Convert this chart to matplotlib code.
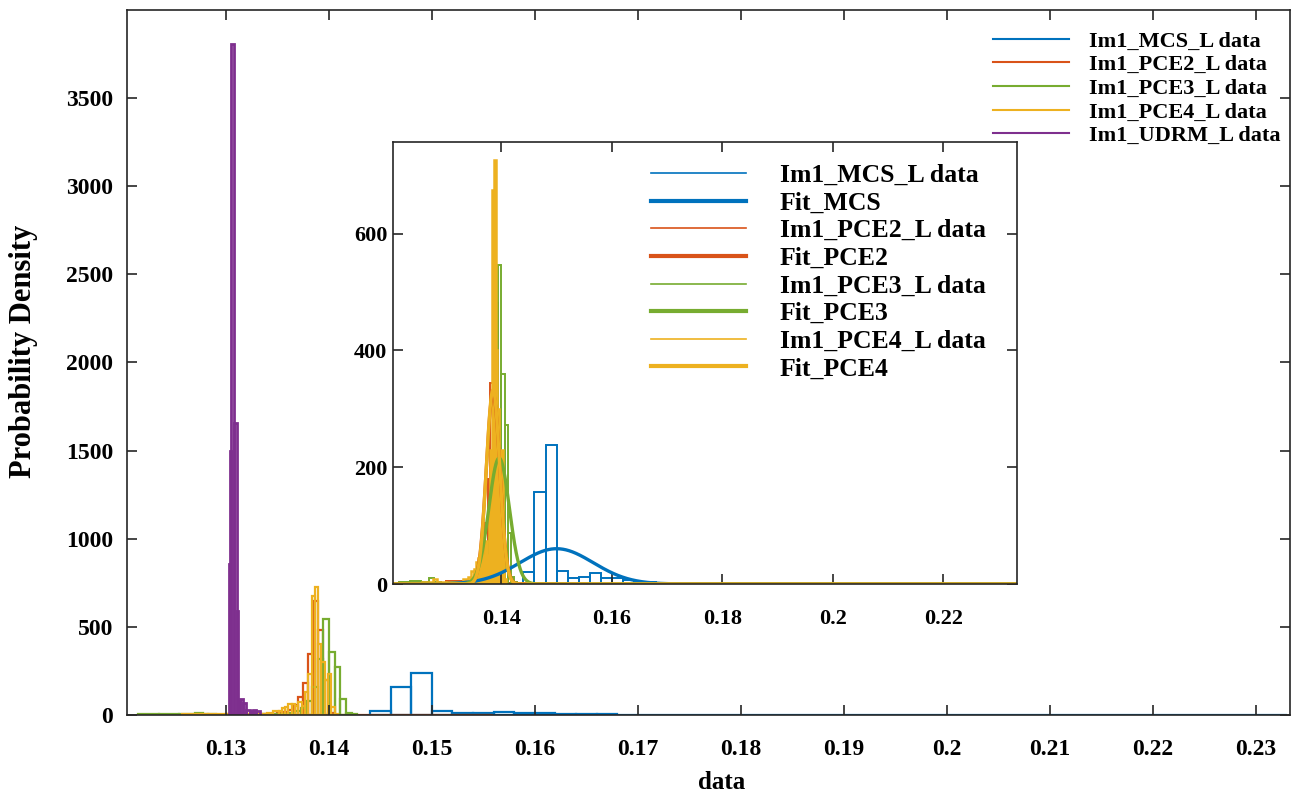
import numpy as np
import matplotlib
matplotlib.use("Agg")
import matplotlib.pyplot as plt
from matplotlib.lines import Line2D

# ---- histogram data: bin edges and bin heights ----
mcs_edges = [0.144, 0.146, 0.148, 0.150, 0.152, 0.154, 0.156, 0.158, 0.160,
             0.162, 0.164, 0.166, 0.168, 0.170, 0.180, 0.200, 0.233]
mcs_heights = [21, 157, 238, 23, 11, 12, 19, 11, 10, 7, 4, 3, 2, 1.5, 1, 0.8]

pce2_edges = [0.1240, 0.1300, 0.1350, 0.13606, 0.13654, 0.13702, 0.1375, 0.13798,
              0.13846, 0.13894, 0.13942, 0.1399, 0.14038, 0.1440, 0.1480, 0.1520, 0.1559]
pce2_heights = [2, 5, 15, 30, 55, 104, 180, 344, 645, 481, 200, 10, 2, 1, 1, 1]

pce3_edges = [0.1215, 0.1235, 0.1255, 0.1270, 0.1278, 0.1290, 0.1310, 0.1330, 0.1350,
              0.1362, 0.13673, 0.13728, 0.13783, 0.13838, 0.13893, 0.13948, 0.14003,
              0.14058, 0.14113, 0.14168, 0.14223, 0.14278]
pce3_heights = [3, 5, 3, 10, 3, 2, 3, 4, 6, 10, 20, 40, 80, 160, 315, 547, 360, 272, 88, 12, 3]

pce4_edges = [0.1257, 0.1277, 0.1283, 0.1300, 0.1330, 0.1340, 0.1346, 0.13512,
              0.13544, 0.13576, 0.13608, 0.1364, 0.13672, 0.13704, 0.13736, 0.13768,
              0.138, 0.13832, 0.13864, 0.13896, 0.13928, 0.1396, 0.13992, 0.14024,
              0.14056, 0.14088]
pce4_heights = [3, 8, 3, 4, 8, 12, 22, 25, 37, 45, 62, 62, 50, 74, 50, 132, 230,
                674, 726, 400, 300, 200, 230, 45, 8]

udrm_edges = [0.13030, 0.13040, 0.13049, 0.13075, 0.13104, 0.13116, 0.13136,
              0.13168, 0.13200, 0.13232, 0.13264, 0.13296, 0.13328]
udrm_heights = [855, 1496, 3808, 1657, 589, 80, 88, 70, 28, 22, 30, 25]

# normal fits shown in the inset (mean, std)
fit_mcs = (0.1500, 0.0066)
fit_pce2 = (0.1385, 0.00122)
fit_pce3 = (0.1396, 0.00185)
fit_pce4 = (0.1385, 0.0012)

main_xticks = [0.13, 0.14, 0.15, 0.16, 0.17, 0.18, 0.19, 0.20, 0.21, 0.22, 0.23]
main_xticklabels = ["0.13", "0.14", "0.15", "0.16", "0.17", "0.18", "0.19",
                    "0.2", "0.21", "0.22", "0.23"]
main_yticks = [0, 500, 1000, 1500, 2000, 2500, 3000, 3500]
inset_xticks = [0.14, 0.16, 0.18, 0.20, 0.22]
inset_xticklabels = ["0.14", "0.16", "0.18", "0.2", "0.22"]
inset_yticks = [0, 200, 400, 600]

C_BLUE = "#0072BD"
C_ORANGE = "#D95319"
C_YELLOW = "#EDB120"
C_PURPLE = "#7E2F8E"
C_GREEN = "#77AC30"
AX_COLOR = "#262626"

plt.rcParams['font.family'] = ['Liberation Serif', 'DejaVu Serif']
plt.rcParams['font.weight'] = 'bold'


def draw_hist(ax, edges, heights, color, lw):
    edges = np.asarray(edges)
    ax.bar(edges[:-1], heights, width=np.diff(edges), align='edge', fill=False,
           edgecolor=color, linewidth=lw)


def style_axes(ax, fs, xpad, ypad):
    for sp in ax.spines.values():
        sp.set_color(AX_COLOR)
        sp.set_linewidth(1.2)
    ax.tick_params(direction='in', top=True, right=True, length=7, width=1.2,
                   color=AX_COLOR, labelsize=fs)
    ax.tick_params(axis='x', pad=xpad)
    ax.tick_params(axis='y', pad=ypad)
    for lab in ax.get_xticklabels() + ax.get_yticklabels():
        lab.set_fontweight('bold')


fig = plt.figure(figsize=(12.98, 7.96), dpi=100)

# ---------------- main axes ----------------
ax = fig.add_axes([0.0978, 0.1018, 0.896, 0.8856])
draw_hist(ax, mcs_edges, mcs_heights, C_BLUE, 1.6)
draw_hist(ax, pce2_edges, pce2_heights, C_ORANGE, 1.6)
draw_hist(ax, pce3_edges, pce3_heights, C_GREEN, 1.6)
draw_hist(ax, pce4_edges, pce4_heights, C_YELLOW, 1.6)
draw_hist(ax, udrm_edges, udrm_heights, C_PURPLE, 2.0)
ax.set_xlim(0.1204, 0.2333)
ax.set_ylim(0, 4000)
ax.set_xticks(main_xticks)
ax.set_xticklabels(main_xticklabels)
ax.set_yticks(main_yticks)
style_axes(ax, 17, 17, 10)
ax.set_xlabel("data", fontsize=18, fontweight='bold')
ax.set_ylabel("Probability Density", fontsize=22, fontweight='bold')
ax.xaxis.set_label_coords(0.511, -0.08)
ax.yaxis.set_label_coords(-0.0765, 0.516)

main_handles = [Line2D([], [], color=c, lw=1.5)
                for c in (C_BLUE, C_ORANGE, C_GREEN, C_YELLOW, C_PURPLE)]
main_labels = ["Im1_MCS_L data", "Im1_PCE2_L data", "Im1_PCE3_L data",
               "Im1_PCE4_L data", "Im1_UDRM_L data"]
fig.legend(main_handles, main_labels, loc='upper left',
           bbox_to_anchor=(993 / 1298, 1 - 31 / 796), frameon=False,
           prop={'size': 16, 'weight': 'bold'}, handlelength=3.4,
           handletextpad=0.9, labelspacing=0.14, borderpad=0, borderaxespad=0)

# ---------------- inset axes ----------------
ins = fig.add_axes([393 / 1298, 1 - 584 / 796, 624 / 1298, 442 / 796])
ins.set_facecolor('white')
xlo, xhi = 0.1204, 0.2333
xs = np.linspace(xlo, xhi, 3000)


def normal_pdf(x, mu, sd):
    return np.exp(-0.5 * ((x - mu) / sd) ** 2) / (sd * np.sqrt(2 * np.pi))


draw_hist(ins, mcs_edges, mcs_heights, C_BLUE, 1.4)
ins.plot(xs, normal_pdf(xs, *fit_mcs), color=C_BLUE, lw=2.4)
draw_hist(ins, pce2_edges, pce2_heights, C_ORANGE, 1.4)
ins.plot(xs, normal_pdf(xs, *fit_pce2), color=C_ORANGE, lw=2.4)
draw_hist(ins, pce3_edges, pce3_heights, C_GREEN, 1.4)
ins.plot(xs, normal_pdf(xs, *fit_pce3), color=C_GREEN, lw=2.4)
draw_hist(ins, pce4_edges, pce4_heights, C_YELLOW, 1.8)
ins.plot(xs, normal_pdf(xs, *fit_pce4), color=C_YELLOW, lw=2.4)
ins.set_xlim(xlo, xhi)
ins.set_ylim(0, 757)
ins.set_xticks(inset_xticks)
ins.set_xticklabels(inset_xticklabels)
ins.set_yticks(inset_yticks)
style_axes(ins, 16, 18, 4)

ins_handles = []
for c in (C_BLUE, C_ORANGE, C_GREEN, C_YELLOW):
    ins_handles.append(Line2D([], [], color=c, lw=1.2))
    ins_handles.append(Line2D([], [], color=c, lw=3.0))
ins_labels = ["Im1_MCS_L data", "Fit_MCS", "Im1_PCE2_L data", "Fit_PCE2",
              "Im1_PCE3_L data", "Fit_PCE3", "Im1_PCE4_L data", "Fit_PCE4"]
fig.legend(ins_handles, ins_labels, loc='upper left',
           bbox_to_anchor=(651 / 1298, 1 - 164 / 796), frameon=False,
           prop={'size': 18.5, 'weight': 'bold'}, handlelength=3.7,
           handletextpad=1.32, labelspacing=0.18, borderpad=0, borderaxespad=0)

fig.savefig("out.png", dpi=100)
